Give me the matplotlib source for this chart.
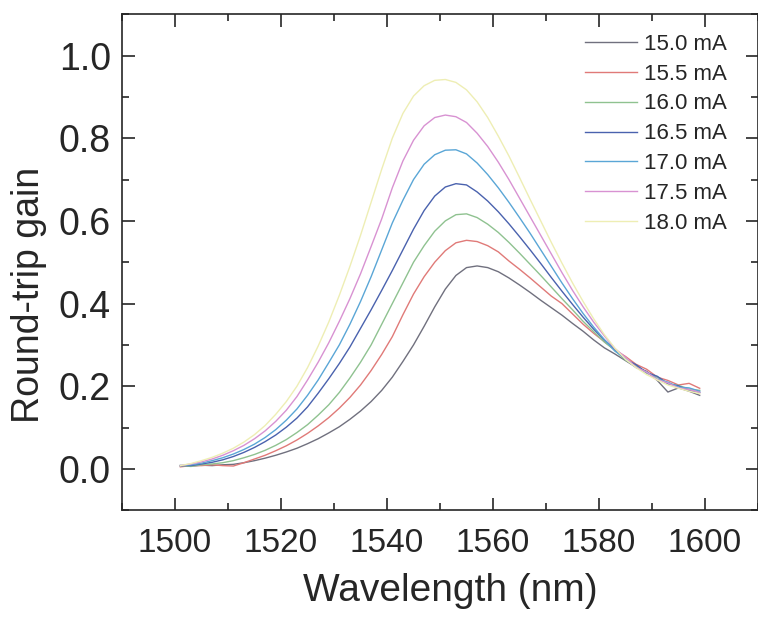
import numpy as np
import matplotlib
matplotlib.use("Agg")
import matplotlib.pyplot as plt
from matplotlib.ticker import MultipleLocator, FormatStrFormatter

plt.rcParams['font.family'] = ['Liberation Sans', 'DejaVu Sans']

# wavelength grid (nm)
wl = np.arange(1501, 1600, 2)

# round-trip gain, one list per drive current
g150 = [.008, .007, .009, .008, .010, .011, .015, .020, .026, .033, .041, .050, .061, .073, .087, .102, .120,
        .140, .163, .190, .222, .260, .300, .345, .392, .435, .468, .487, .491, .487, .477, .462, .445, .427,
        .408, .390, .372, .352, .333, .312, .293, .278, .262, .246, .236, .214, .186, .196, .188, .178]
g155 = [.005, .008, .008, .010, .008, .007, .015, .024, .033, .044, .056, .070, .086, .104, .124, .147, .173,
        .203, .238, .277, .320, .373, .423, .465, .500, .528, .547, .553, .550, .540, .525, .503, .483, .462,
        .440, .418, .400, .375, .350, .328, .308, .288, .272, .253, .241, .222, .214, .203, .207, .195]
g160 = [.008, .006, .010, .012, .015, .020, .027, .035, .045, .057, .071, .088, .107, .130, .155, .185, .220,
        .258, .300, .350, .400, .450, .500, .540, .575, .600, .615, .617, .608, .592, .572, .548, .522, .495,
        .468, .440, .412, .385, .357, .332, .307, .287, .263, .250, .231, .222, .205, .202, .193, .190]
g165 = [.008, .008, .012, .016, .022, .030, .040, .052, .066, .082, .101, .123, .150, .183, .218, .255, .295,
        .340, .385, .432, .480, .530, .580, .625, .660, .682, .690, .687, .670, .648, .622, .593, .562, .530,
        .497, .463, .430, .398, .367, .338, .312, .290, .265, .252, .233, .224, .206, .201, .190, .185]
g170 = [.008, .010, .014, .020, .027, .036, .047, .060, .076, .095, .118, .145, .178, .215, .257, .300, .350,
        .405, .465, .530, .595, .650, .700, .737, .760, .771, .772, .762, .740, .712, .680, .645, .608, .570,
        .530, .490, .450, .412, .376, .343, .313, .285, .267, .245, .234, .217, .210, .198, .196, .188]
g175 = [.008, .012, .017, .024, .033, .044, .057, .073, .092, .115, .142, .175, .215, .258, .305, .357, .412,
        .472, .538, .605, .680, .745, .795, .830, .850, .856, .852, .838, .812, .780, .742, .700, .655, .610,
        .565, .520, .475, .432, .392, .355, .322, .291, .270, .246, .234, .216, .208, .196, .192, .185]
g180 = [.008, .013, .020, .028, .038, .050, .065, .083, .105, .132, .163, .200, .245, .297, .355, .420, .490,
        .565, .645, .725, .800, .860, .902, .927, .940, .942, .935, .917, .888, .850, .805, .757, .705, .652,
        .600, .548, .498, .450, .405, .363, .325, .292, .265, .245, .228, .215, .203, .195, .188, .182]

labels = ["15.0 mA", "15.5 mA", "16.0 mA", "16.5 mA", "17.0 mA", "17.5 mA", "18.0 mA"]
colors = ["#70707e", "#e07a78", "#8fc290", "#4a62ae", "#5aa6d6", "#d892d2", "#eeeeb4"]
series = [g150, g155, g160, g165, g170, g175, g180]

txt = "#262626"

fig = plt.figure(figsize=(7.58, 6.17), dpi=100)
ax = fig.add_axes([0.161, 0.173, 0.839, 0.804])

for y, c, lab in zip(series, colors, labels):
    ax.plot(wl, y, color=c, lw=1.0, label=lab)

ax.set_xlim(1490, 1610)
ax.set_ylim(-0.1, 1.1)
ax.xaxis.set_major_locator(MultipleLocator(20))
ax.xaxis.set_minor_locator(MultipleLocator(10))
ax.yaxis.set_major_locator(MultipleLocator(0.2))
ax.yaxis.set_minor_locator(MultipleLocator(0.1))
ax.yaxis.set_major_formatter(FormatStrFormatter('%.1f'))
ax.tick_params(which='both', direction='in', top=True, right=True, width=1.2, color=txt)
ax.tick_params(which='major', length=9)
ax.tick_params(which='minor', length=5)
ax.tick_params(axis='x', which='major', labelsize=24, pad=13, labelcolor=txt)
ax.tick_params(axis='y', which='major', labelsize=27, pad=8, labelcolor=txt)
for s in ax.spines.values():
    s.set_linewidth(1.2)
    s.set_color(txt)

ax.set_xlabel("Wavelength (nm)", fontsize=28, color=txt)
ax.xaxis.set_label_coords(0.516, -0.127)
ax.set_ylabel("Round-trip gain", fontsize=27, color=txt)
ax.yaxis.set_label_coords(-0.118, 0.435)

leg = ax.legend(loc='upper right', bbox_to_anchor=(0.976, 0.992), frameon=False, fontsize=16,
                handlelength=2.3, labelspacing=0.4, handletextpad=0.35, borderaxespad=0.3)
for t in leg.get_texts():
    t.set_color(txt)

fig.savefig("out.png", dpi=100)
